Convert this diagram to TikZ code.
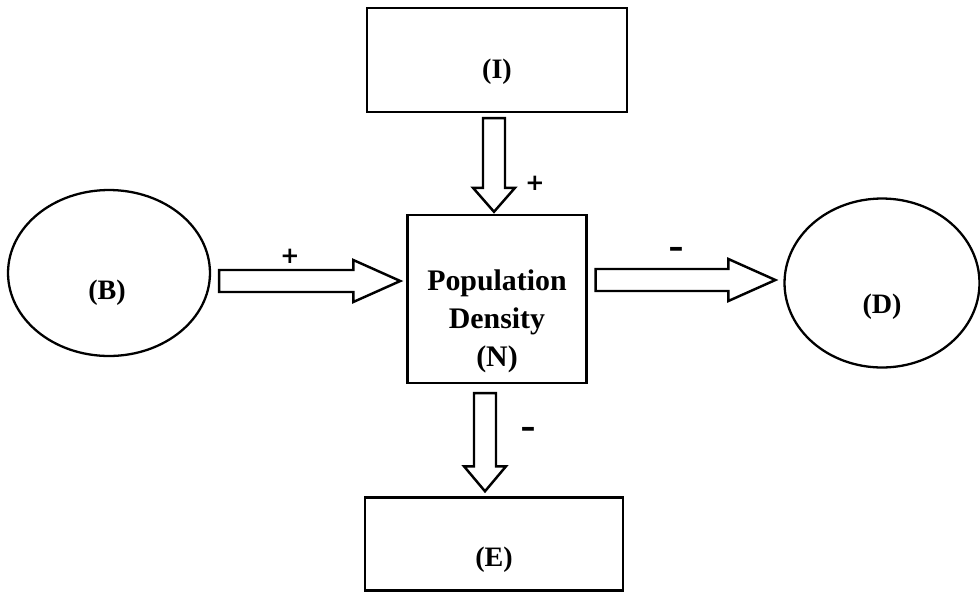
\documentclass[tikz,border=0pt]{standalone}
\usepackage{fontspec}
\setmainfont{Liberation Serif}
\newfontfamily\signfont{DejaVu Sans}
\usetikzlibrary{shapes.geometric,calc}

\def\shafthw{0.22cm}% half width of the arrow shaft
\def\headhw{0.42cm}% half width of the arrow head

\tikzset{
  box/.style={draw, line width=1.4pt, rectangle, inner sep=0pt},
  oval/.style={draw, line width=1.3pt, ellipse, inner sep=0pt},
  lbl/.style={font=\bfseries\fontsize{16}{20}\selectfont},
  plus/.style={font=\signfont\bfseries\fontsize{13}{16}\selectfont},
  minus/.style={font=\signfont\bfseries\fontsize{17}{20}\selectfont},
  fatarrow/.style={draw, line width=1.4pt, line join=miter,
    /utils/exec={\def\headlen{#1}},
    to path={let \p1=(\tikztostart), \p2=(\tikztotarget),
      \n1={atan2(\y2-\y1,\x2-\x1)}, \n2={veclen(\x2-\x1,\y2-\y1)-\headlen} in
      ($(\p1)+(\n1+90:\shafthw)$)
      -- ($(\p1)+(\n1:\n2)+(\n1+90:\shafthw)$)
      -- ($(\p1)+(\n1:\n2)+(\n1+90:\headhw)$)
      -- (\p2)
      -- ($(\p1)+(\n1:\n2)+(\n1-90:\headhw)$)
      -- ($(\p1)+(\n1:\n2)+(\n1-90:\shafthw)$)
      -- ($(\p1)+(\n1-90:\shafthw)$) -- cycle}},
  fatarrow/.default=0.94cm,
}

\begin{document}
\begin{tikzpicture}[x=0.02cm, y=-0.02cm]
  \useasboundingbox (0,0) rectangle (980,592);
  %
  \node[box, minimum width=5.2cm, minimum height=2.08cm] (I) at (497,60) {};   % top box
  \node[lbl] (Ilbl) at ($(I.center)+(0,12)$) {(I)};
  %
  \node[box, minimum width=3.58cm, minimum height=3.36cm] (N) at (497,299) {};  % centre box
  \node[lbl, align=center, font=\bfseries\fontsize{17}{21.6}\selectfont] (Nlbl)
    at ($(N.center)+(0,22)$) {Population\\Density\\(N)};
  %
  \node[oval, minimum width=4.04cm, minimum height=3.32cm] (B) at (109,273) {};  % left oval
  \node[lbl] (Blbl) at ($(B.center)+(-2,20)$) {(B)};
  %
  \node[oval, minimum width=3.9cm, minimum height=3.38cm] (D) at (882,283) {};  % right oval
  \node[lbl] (Dlbl) at ($(D.center)+(0,24)$) {(D)};
  %
  \node[box, minimum width=5.16cm, minimum height=1.86cm] (E) at (494,544) {};  % bottom box
  \node[lbl] (Elbl) at ($(E.center)+(0,16)$) {(E)};
  %
  \draw[fatarrow=0.48cm] ($(I.south)+(-3,5)$) to ($(N.north)+(-3,-2)$);
  \draw[fatarrow] ($(B.east)+(8,8)$) to ($(N.west)+(-6,-18)$);
  \draw[fatarrow] ($(N.east)+(8,-19)$) to ($(D.west)+(-8,-3)$);
  \draw[fatarrow=0.5cm] ($(N.south)+(-12,9)$) to ($(E.north)+(-9,-5)$);
  %
  \node[plus] (s1) at (535,183) {+};
  \node[plus] (s2) at (290,256) {+};
  \node[minus] (s3) at (676,252) {\textendash};
  \node[minus] (s4) at (528,432) {\textendash};
  %
\end{tikzpicture}
\end{document}
